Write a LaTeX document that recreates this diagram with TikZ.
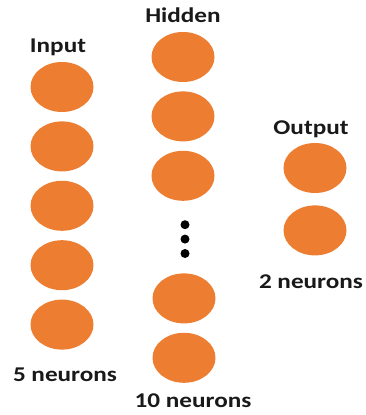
\documentclass[tikz,border=0pt]{standalone}
\usepackage{fontspec}
\setmainfont{Carlito}[FakeStretch=1.2]
\usetikzlibrary{positioning, shapes.geometric}
\definecolor{neuronorange}{RGB}{237,125,49}

\begin{document}
\begin{tikzpicture}[
    x=1pt, y=1pt,
    neuron/.style={ellipse, fill=neuronorange, minimum width=63pt, minimum height=50pt, inner sep=0pt},
    dot/.style={circle, fill=black, minimum size=9pt, inner sep=0pt},
    mylabel/.style={font=\fontsize{21}{25}\selectfont\bfseries, text=black!90, inner sep=0pt, text depth=0pt},
    node distance=9pt
    ]
\useasboundingbox (0,0) rectangle (366,415);

% input layer
\node[neuron] (in1) at (62,328) {};
\foreach \i [count=\j from 2] in {1,...,4}
    \node[neuron, below=of in\i] (in\j) {};

% hidden layer
\node[neuron] (hid1) at (183,358) {};
\node[neuron, below=of hid1] (hid2) {};
\node[neuron, below=of hid2] (hid3) {};
\node[dot, below=19pt of hid3, xshift=2pt] (d1) {};
\node[dot, below=5pt of d1] (d2) {};
\node[dot, below=5pt of d2] (d3) {};
\node[neuron, below=15pt of d3, xshift=-1pt] (hid4) {};
\node[neuron, below=9pt of hid4] (hid5) {};

% output layer
\node[neuron] (out1) at (315,247) {};
\node[neuron, below=12pt of out1] (out2) {};

% labels
\node[mylabel, above=9pt of in1, xshift=-4pt] (inlab) {Input};
\node[mylabel, above=9pt of hid1] (hidlab) {Hidden};
\node[mylabel, above=8pt of out1, xshift=-4pt] (outlab) {Output};
\node[mylabel, below=18pt of in5, xshift=3pt] (innum) {5 neurons};
\node[mylabel, below=11pt of hid5, xshift=9pt] (hidnum) {10 neurons};
\node[mylabel, below=19pt of out2, xshift=-4pt] (outnum) {2 neurons};

\end{tikzpicture}
\end{document}
